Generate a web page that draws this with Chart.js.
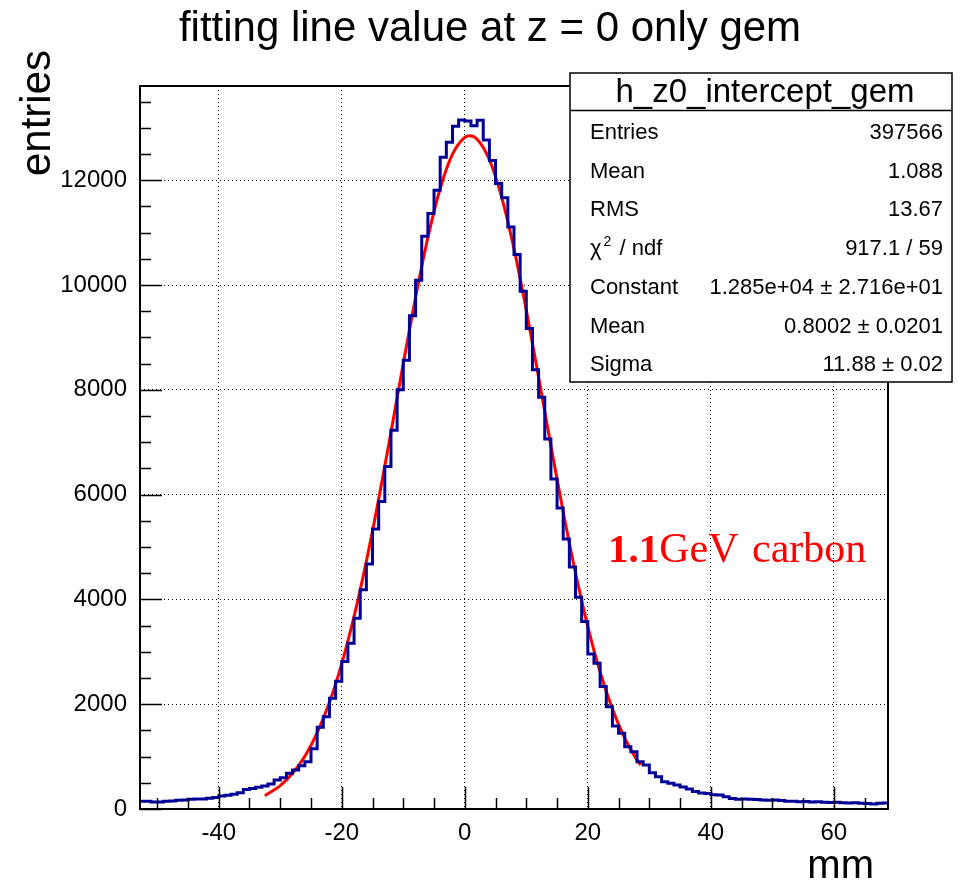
<!DOCTYPE html>
<html>
<head>
<meta charset="utf-8">
<script src="https://cdn.jsdelivr.net/npm/chart.js@4.4.0/dist/chart.umd.min.js"></script>
<style>
  html, body { margin: 0; padding: 0; background: #fff; }
  canvas { display: block; }
</style>
</head>
<body>
<canvas id="histChart" width="971" height="885"></canvas>
<script>
// histogram: 1 mm bins starting at -53 mm
const histBinStart = -53;
const histBinWidth = 1;
const histCounts = [
  150, 148, 135, 133, 150, 152, 168, 172, 188, 192,      // -53 .. -44
  190, 205, 218, 250, 262, 280, 312, 372, 392, 413,      // -43 .. -34
  438, 476, 552, 597, 680, 743, 826, 902, 1150, 1560,    // -33 .. -24
  1763, 2115, 2440, 2814, 3166, 3643, 4184, 4675, 5343, 5870, // -23 .. -14
  6539, 7227, 8004, 8564, 9417, 10092, 10933, 11366, 11811, 12442, // -13 .. -4
  12728, 13034, 13150,                                   // -3 .. -1
  13130, 13040, 13145, 12770, 12380, 11939, 11665, 11111, 10582, 9882, // 0 .. 9
  9169, 8386, 7860, 7063, 6299, 5744, 5152, 4617, 4044, 3578, // 10 .. 19
  2960, 2780, 2340, 1950, 1586, 1446, 1190, 1095, 904, 840,   // 20 .. 29
  694, 617, 522, 490, 460, 420, 380, 335, 305, 295,      // 30 .. 39
  270, 265, 235, 200, 185, 190, 185, 180, 170, 165,      // 40 .. 49
  170, 160, 150, 150, 140, 145, 135, 140, 130, 125,      // 50 .. 59
  130, 120, 115, 120, 110, 105, 95, 110, 115             // 60 .. 68
];

// gaussian fit curve
const fitX = [-32.5, -30, -28, -26, -24, -22, -20, -18, -16, -14, -12, -10, -8, -6, -4, -2, 0, 0.8,
              2, 4, 6, 8, 10, 12, 14, 16, 18, 20, 22, 24, 26, 28, 28.6];
const fitY = [255, 446, 681, 1008, 1455, 2037, 2776, 3675, 4729, 5915, 7192, 8502, 9767, 10908, 11843, 12498, 12821, 12850,
              12785, 12393, 11676, 10694, 9521, 8240, 6931, 5668, 4507, 3482, 2615, 1909, 1354, 934, 840];

const xTickValues = [-40, -20, 0, 20, 40, 60];
const yTickValues = [0, 2000, 4000, 6000, 8000, 10000, 12000];

const statLabels = ['Entries', 'Mean', 'RMS', 'chi2', 'Constant', 'Mean', 'Sigma'];
const statValues = ['397566', '1.088', '13.67', '917.1 / 59', '1.285e+04 \u00b1 2.716e+01', '0.8002 \u00b1 0.0201', '11.88 \u00b1 0.02'];

const xMin = -52.8, xMax = 68.8;
const yMin = 0, yMax = 13800;
const SANS = '"Liberation Sans", Arial, Helvetica, sans-serif';
const SERIF = '"Liberation Serif", "Times New Roman", serif';

// step points: left edge of each bin + closing right edge
const histPoints = histCounts.map((c, i) => ({ x: histBinStart + i * histBinWidth, y: c }));
histPoints.push({ x: histBinStart + histCounts.length * histBinWidth, y: histCounts[histCounts.length - 1] });
const fitPoints = fitX.map((x, i) => ({ x: x, y: fitY[i] }));

// ROOT-like frame, inward ticks, titles, stats box, label
const rootDecor = {
  id: 'rootDecor',
  afterDraw(chart) {
    const ctx = chart.ctx;
    const a = chart.chartArea;
    const xs = chart.scales.x, ys = chart.scales.y;
    ctx.save();

    // ticks (inside the frame)
    ctx.strokeStyle = '#000';
    ctx.lineWidth = 1.5;
    ctx.beginPath();
    for (let v = -50; v <= 65; v += 5) {
      const px = Math.round(xs.getPixelForValue(v)) + 0.5;
      const len = (v % 20 === 0) ? 22 : 11;
      ctx.moveTo(px, a.bottom); ctx.lineTo(px, a.bottom - len);
    }
    for (let v = 0; v <= 13500; v += 500) {
      const py = Math.round(ys.getPixelForValue(v)) + 0.5;
      const len = (v % 2000 === 0) ? 22 : 11;
      ctx.moveTo(a.left, py); ctx.lineTo(a.left + len, py);
    }
    ctx.stroke();

    // frame
    ctx.lineWidth = 2;
    ctx.strokeRect(a.left, a.top, a.right - a.left, a.bottom - a.top);

    // title
    ctx.fillStyle = '#000';
    ctx.font = '42px ' + SANS;
    ctx.textAlign = 'center';
    ctx.textBaseline = 'alphabetic';
    ctx.fillText('fitting line value at z = 0 only gem', 490, 41);

    // axis titles
    ctx.font = '40px ' + SANS;
    ctx.textAlign = 'right';
    ctx.fillText('mm', 874, 878);
    ctx.save();
    ctx.translate(50, 50);
    ctx.rotate(-Math.PI / 2);
    ctx.font = '42px ' + SANS;
    ctx.textAlign = 'right';
    ctx.fillText('entries', 0, 0);
    ctx.restore();

    // stats box
    const bx = 570, by = 73, bw = 382, bh = 309;
    ctx.fillStyle = '#fff';
    ctx.fillRect(bx, by, bw, bh);
    ctx.lineWidth = 1.5;
    ctx.strokeStyle = '#000';
    ctx.strokeRect(bx, by, bw, bh);
    ctx.beginPath();
    ctx.moveTo(bx, 110.5); ctx.lineTo(bx + bw, 110.5);
    ctx.stroke();
    ctx.fillStyle = '#000';
    ctx.font = '33px ' + SANS;
    ctx.textAlign = 'center';
    ctx.fillText('h_z0_intercept_gem', bx + bw / 2 + 4, 102);
    ctx.font = '22px ' + SANS;
    statLabels.forEach((lab, i) => {
      const yb = 139 + i * 38.7;
      ctx.textAlign = 'left';
      if (lab === 'chi2') {
        ctx.fillText('\u03c7', 590, yb);
        const w = ctx.measureText('\u03c7').width;
        ctx.font = '14px ' + SANS;
        ctx.fillText('2', 590 + w + 2, yb - 9);
        ctx.font = '22px ' + SANS;
        ctx.fillText('/ ndf', 590 + w + 18, yb);
      } else {
        ctx.fillText(lab, 590, yb);
      }
      ctx.textAlign = 'right';
      ctx.fillText(statValues[i], 943, yb);
    });

    // red annotation
    ctx.fillStyle = '#ff0000';
    ctx.textAlign = 'left';
    ctx.font = 'bold 41px ' + SERIF;
    ctx.fillText('1.1', 608, 562);
    const w11 = ctx.measureText('1.1').width;
    ctx.font = '42px ' + SERIF;
    ctx.fillText('GeV', 608 + w11, 562);
    ctx.fillText('carbon', 752, 562);

    ctx.restore();
  }
};

new Chart(document.getElementById('histChart'), {
  type: 'line',
  data: {
    datasets: [
      {
        label: 'h_z0_intercept_gem',
        data: histPoints,
        stepped: 'before',
        borderColor: '#000099',
        borderWidth: 3,
        pointRadius: 0,
        fill: false
      },
      {
        label: 'gaus fit',
        data: fitPoints,
        borderColor: '#ff0000',
        borderWidth: 3,
        pointRadius: 0,
        cubicInterpolationMode: 'monotone',
        fill: false
      }
    ]
  },
  options: {
    responsive: false,
    animation: false,
    devicePixelRatio: 1,
    layout: { padding: { left: 0, top: 86, right: 83, bottom: 0 } },
    plugins: {
      legend: { display: false },
      tooltip: { enabled: false },
      title: { display: false }
    },
    scales: {
      x: {
        type: 'linear',
        min: xMin,
        max: xMax,
        afterFit: s => { s.height = 76; },
        afterBuildTicks: s => { s.ticks = xTickValues.map(v => ({ value: v })); },
        grid: { color: '#000', lineWidth: 1, drawTicks: false },
        border: { display: false, dash: [1, 3] },
        ticks: {
          padding: 10,
          color: '#000',
          font: { family: SANS, size: 24 },
          callback: v => String(v)
        }
      },
      y: {
        type: 'linear',
        min: yMin,
        max: yMax,
        afterFit: s => { s.width = 140; },
        afterBuildTicks: s => { s.ticks = yTickValues.map(v => ({ value: v })); },
        grid: { color: '#000', lineWidth: 1, drawTicks: false },
        border: { display: false, dash: [1, 3] },
        ticks: {
          padding: 13,
          color: '#000',
          font: { family: SANS, size: 24 },
          callback: v => String(v)
        }
      }
    }
  },
  plugins: [rootDecor]
});
</script>
</body>
</html>
